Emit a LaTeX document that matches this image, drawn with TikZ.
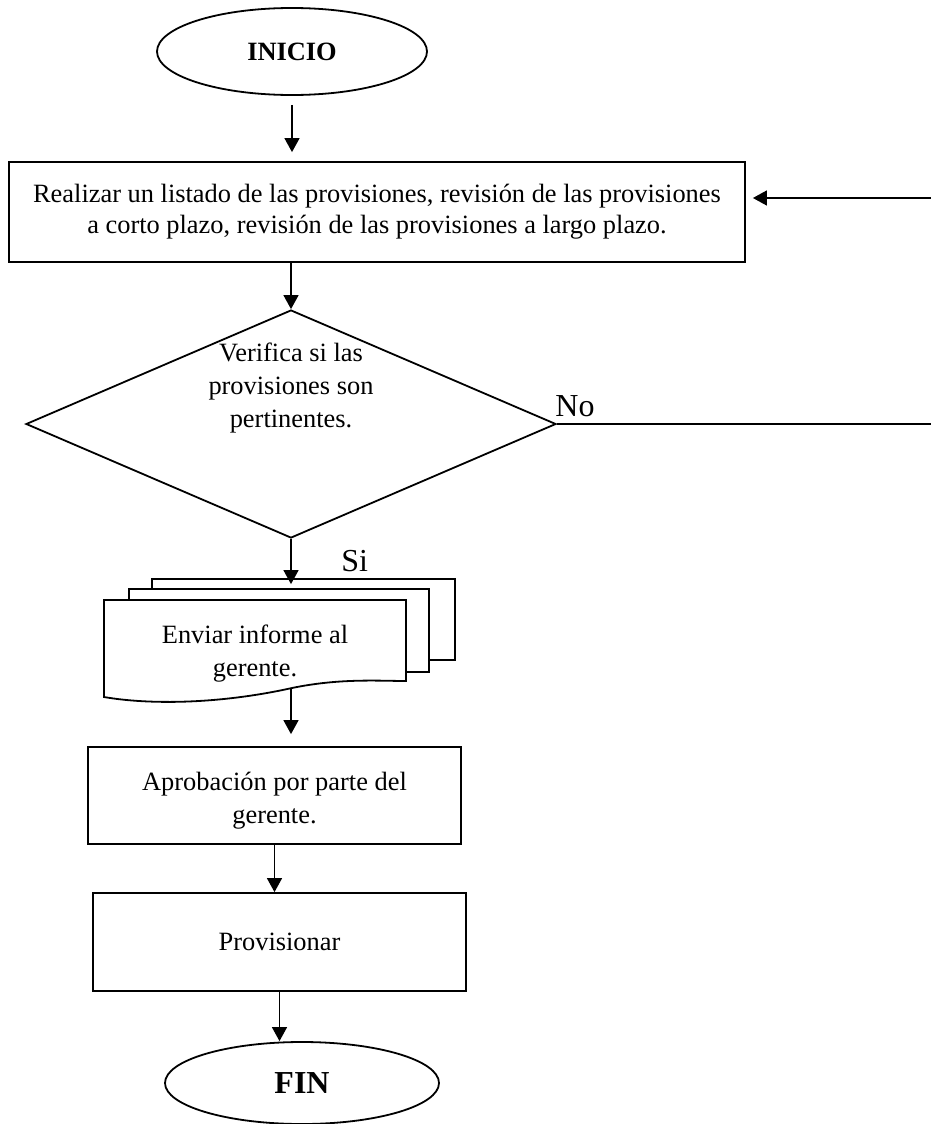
\documentclass[tikz,border=0pt]{standalone}
\usepackage{fontspec}
\setmainfont{Liberation Serif}
\usetikzlibrary{shapes.geometric,arrows.meta}

\begin{document}
\begin{tikzpicture}[x=0.5pt,y=-0.5pt,
  shapeline/.style={draw=black,line width=0.9pt},
  procbox/.style={shapeline,rectangle,inner sep=0pt,align=center,font=\fontsize{13.2}{16.5}\selectfont},
  terminal/.style={shapeline,ellipse,inner sep=0pt},
  flow/.style={line width=0.7pt,-{Triangle[length=7pt,width=7.5pt]}},
  plainline/.style={line width=0.7pt},
  body/.style={align=center,font=\fontsize{13.2}{16.5}\selectfont,inner sep=0pt},
  tag/.style={font=\fontsize{16}{18}\selectfont,inner sep=0pt}
]
\useasboundingbox (0,0) rectangle (931,1124);

% start terminal
\node[terminal, minimum width=135pt, minimum height=43.5pt,
      font=\bfseries\fontsize{13.2}{15}\selectfont] (inicio) at (292,51.5) {INICIO};

% first process
\node[procbox, minimum width=368pt, minimum height=50pt,
      font=\fontsize{13.2}{15.5}\selectfont] (lista) at (377,212)
  {Realizar un listado de las provisiones, revisión de las provisiones\\a corto plazo, revisión de las provisiones a largo plazo.};

% decision
\node[shapeline, diamond, minimum width=265pt, minimum height=114pt, inner sep=0pt] (verif) at (291,424) {};
\node[body] (veriftxt) at (291,388) {Verifica si las\\provisiones son\\pertinentes.};
\node[tag, anchor=base west] (no) at (555,416) {No};
\node[tag, anchor=base west] (si) at (341,571) {Si};

% multi-document
\node[shapeline, fill=white, minimum width=151.5pt, minimum height=40.5pt, inner sep=0pt] (hoja3) at (303.5,619.5) {};
\node[shapeline, fill=white, minimum width=150pt, minimum height=41.5pt, inner sep=0pt] (hoja2) at (279,630.5) {};
\draw[shapeline, fill=white] (104,600) -- (406,600) -- (406,681)
  .. controls (380,681) and (340,678) .. (292,688)
  .. controls (220,704) and (150,705) .. (104,697) -- cycle;
\node[inner sep=0pt, minimum width=151pt, minimum height=48.5pt] (informe) at (255,648.5) {};
\node[body] (informetxt) at (255,654) {Enviar informe al\\gerente.};

% approval and provisioning
\node[procbox, minimum width=186.5pt, minimum height=48.5pt] (aprob) at (274.5,795.5) {};
\node[body] (aprobtxt) at (274.5,801) {Aprobación por parte del\\gerente.};
\node[procbox, minimum width=186.5pt, minimum height=49pt] (prov) at (279.5,942) {Provisionar};

% end terminal
\node[terminal, minimum width=137pt, minimum height=41pt,
      font=\bfseries\fontsize{16}{18}\selectfont] (fin) at (302,1083) {FIN};

% loop-back ends
\coordinate (derecha1) at (931,424);
\coordinate (derecha2) at (931,198);

% connectors
\draw[flow, shorten <=4.5pt, shorten >=4.5pt] (inicio.south) -- (inicio.south |- lista.north);
\draw[flow] (lista.south -| verif.north) -- (verif.north);
\draw[plainline] (verif.east) -- (derecha1);
\draw[flow, shorten >=3.5pt] (derecha2) -- (lista.east |- derecha2);
\draw[flow, shorten >=-3pt] (verif.south) -- (verif.south |- hoja3.north);
\draw[flow, shorten <=-4.5pt, shorten >=6pt] (verif.south |- informe.south) -- (verif.south |- aprob.north);
\draw[flow] (aprob.south) -- (aprob.south |- prov.north);
\draw[flow] (prov.south) -- (prov.south |- fin.north);
\end{tikzpicture}
\end{document}
